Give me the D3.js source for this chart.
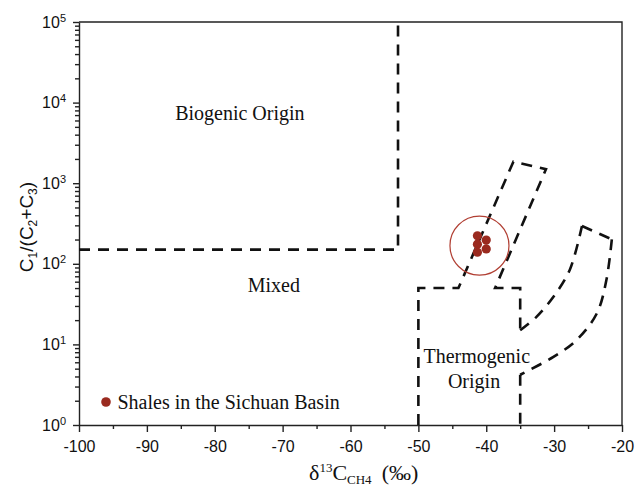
<!DOCTYPE html>
<html>
<head>
<meta charset="utf-8">
<script src="https://cdn.jsdelivr.net/npm/d3@7/dist/d3.min.js"></script>
<style>
    html, body { margin: 0; padding: 0; background: #fff; }
    .serif { font-family: "Liberation Serif", "Times New Roman", serif; fill: #111; }
    .sans  { font-family: "Liberation Sans", Arial, sans-serif; fill: #111; }
    .axis path, .axis line { stroke: #222; stroke-width: 1.4; }
    .boundary { fill: none; stroke: #111; stroke-width: 2.6; stroke-dasharray: 11, 8; }
</style>
</head>
<body>
<svg id="chart" width="635" height="488"></svg>
<script>
(function (d3) {
    'use strict';

    // tick values
    var xTicks      = [-100, -90, -80, -70, -60, -50, -40, -30, -20];
    var xMinorTicks = [-95, -85, -75, -65, -55, -45, -35, -25];
    var yExponents  = [0, 1, 2, 3, 4, 5];

    // shale samples: δ13C CH4 (‰) and C1/(C2+C3)
    var shaleD13C  = [-41.3, -41.3, -41.3, -40.0, -40.0];
    var shaleRatio = [223, 175, 139, 197, 153];
    var shaleRing  = [-41.0, 168]; // centre of the highlight circle

    // genetic field boundaries [δ13C, ratio]
    var biogenicEdge = [[-100, 150], [-53, 150], [-53, 1e5]];
    var thermoBand   = [[-50, 1], [-50, 50], [-44.1, 50], [-36, 1850], [-31.2, 1490],
                        [-38.7, 50], [-35, 50], [-35, 15]];
    var innerCurve   = [[-35, 15], [-32.6, 22], [-30.1, 39], [-27.7, 84], [-25.9, 294]];
    var bandTop      = [[-25.9, 294], [-21.5, 201]];
    var outerCurve   = [[-21.5, 201], [-22.3, 63], [-23.7, 24.3], [-26.7, 11.3], [-30.1, 7.0], [-35, 4.2]];
    var bandTail     = [[-35, 4.2], [-35, 1]];

    // field names [text, δ13C, ratio]
    var fieldLabels = [
        ['Biogenic Origin', -76.3, 6085],
        ['Mixed',           -71.3, 44.7],
        ['Thermogenic',     -41.4, 5.88],
        ['Origin',          -41.8, 2.88]
    ];

    var margin = { left: 79, right: 622, top: 22, bottom: 425 },
        svg    = d3.select('#chart'),
        x      = d3.scaleLinear().domain([-100, -20]).range([margin.left, margin.right]),
        y      = d3.scaleLog().domain([1, 1e5]).range([margin.bottom, margin.top]),
        yMinor = [],
        line   = d3.line().x(function (d) { return x(d[0]); }).y(function (d) { return y(d[1]); }),
        curve  = d3.line().x(function (d) { return x(d[0]); }).y(function (d) { return y(d[1]); })
                   .curve(d3.curveCatmullRom.alpha(0.5));

    yExponents.slice(0, -1).forEach(function (e) {
        for (var m = 2; m < 10; m++) { yMinor.push(m * Math.pow(10, e)); }
    });

    // frame (top and right)
    svg.append('path')
        .attr('d', 'M' + margin.left + ',' + margin.top + 'H' + margin.right + 'V' + margin.bottom)
        .attr('fill', 'none').attr('stroke', '#222').attr('stroke-width', 1.4);

    // x axis
    svg.append('g').attr('class', 'axis sans')
        .attr('transform', 'translate(0,' + margin.bottom + ')')
        .call(d3.axisBottom(x).tickValues(xMinorTicks).tickSize(4).tickFormat(''))
        .call(function (g) { g.select('.domain').remove(); });

    svg.append('g').attr('class', 'axis sans')
        .attr('transform', 'translate(0,' + margin.bottom + ')')
        .call(d3.axisBottom(x).tickValues(xTicks).tickSize(7).tickPadding(9).tickSizeOuter(0)
            .tickFormat(function (d) { return String(d); }))
        .call(function (g) {
            g.selectAll('text').attr('font-size', 16).attr('font-family', null).attr('fill', '#111');
        });

    // y axis
    svg.append('g').attr('class', 'axis')
        .attr('transform', 'translate(' + margin.left + ',0)')
        .call(d3.axisLeft(y).tickValues(yMinor).tickSize(4).tickFormat(''))
        .call(function (g) { g.select('.domain').remove(); });

    svg.append('g').attr('class', 'axis sans')
        .attr('transform', 'translate(' + margin.left + ',0)')
        .call(d3.axisLeft(y).tickValues(yExponents.map(function (e) { return Math.pow(10, e); }))
            .tickSize(6).tickPadding(7).tickSizeOuter(0).tickFormat(''))
        .call(function (g) {
            g.selectAll('.tick text')
                .attr('font-size', 16).attr('font-family', null).attr('fill', '#111')
                .each(function (d) {
                    var t = d3.select(this);
                    t.append('tspan').text('10');
                    t.append('tspan').attr('font-size', 11).attr('dy', '-0.55em')
                        .text(Math.round(Math.log10(d)));
                });
        });

    // boundaries
    [biogenicEdge, thermoBand, bandTop, bandTail].forEach(function (pts) {
        svg.append('path').attr('class', 'boundary').attr('d', line(pts));
    });
    [innerCurve, outerCurve].forEach(function (pts) {
        svg.append('path').attr('class', 'boundary').attr('d', curve(pts));
    });

    // field names
    svg.selectAll('.field-label').data(fieldLabels).enter().append('text')
        .attr('class', 'field-label serif')
        .attr('x', function (d) { return x(d[1]); })
        .attr('y', function (d) { return y(d[2]); })
        .attr('text-anchor', 'middle')
        .attr('font-size', 20)
        .text(function (d) { return d[0]; });

    // samples
    svg.append('circle')
        .attr('cx', x(shaleRing[0])).attr('cy', y(shaleRing[1])).attr('r', 29.5)
        .attr('fill', 'none').attr('stroke', '#b13f33').attr('stroke-width', 1.2);

    svg.selectAll('.sample').data(shaleD13C).enter().append('circle')
        .attr('class', 'sample')
        .attr('cx', function (d) { return x(d); })
        .attr('cy', function (d, i) { return y(shaleRatio[i]); })
        .attr('r', 4.6)
        .attr('fill', '#9a2a1f');

    // legend
    var legend = svg.append('g').attr('transform', 'translate(' + (margin.left + 27) + ',' + (margin.bottom - 23) + ')');
    legend.append('circle').attr('r', 4.8).attr('fill', '#9a2a1f');
    legend.append('text').attr('class', 'serif').attr('x', 11.5).attr('y', 7)
        .attr('font-size', 20).text('Shales in the Sichuan Basin');

    // axis titles
    var xTitle = svg.append('text').attr('class', 'serif')
        .attr('x', 309).attr('y', 480).attr('font-size', 22);
    xTitle.append('tspan').text('δ');
    xTitle.append('tspan').attr('font-size', 13).attr('dy', -8).text('13');
    xTitle.append('tspan').attr('dy', 8).text('C');
    xTitle.append('tspan').attr('font-size', 13).attr('dy', 4).text('CH4');
    xTitle.append('tspan').attr('dy', -4).attr('dx', 10).text('(‰)');

    var yTitle = svg.append('text').attr('class', 'sans')
        .attr('transform', 'translate(33,' + (margin.top + 205) + ') rotate(-90)')
        .attr('text-anchor', 'middle').attr('font-size', 19);
    yTitle.append('tspan').text('C');
    yTitle.append('tspan').attr('font-size', 12).attr('dy', 4).text('1');
    yTitle.append('tspan').attr('dy', -4).text('/(C');
    yTitle.append('tspan').attr('font-size', 12).attr('dy', 4).text('2');
    yTitle.append('tspan').attr('dy', -4).text('+C');
    yTitle.append('tspan').attr('font-size', 12).attr('dy', 4).text('3');
    yTitle.append('tspan').attr('dy', -4).text(')');
}(window.d3));
</script>
</body>
</html>
